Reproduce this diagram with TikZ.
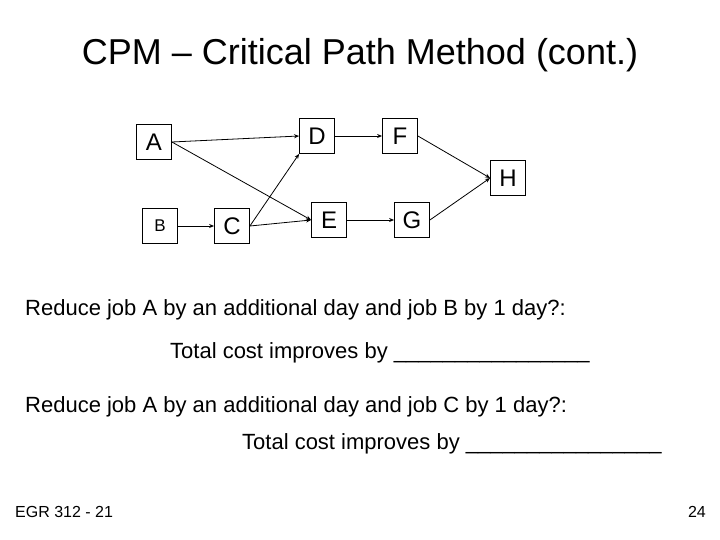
\documentclass[tikz,border=0pt]{standalone}
\usepackage{fontspec}
\setmainfont{Liberation Sans}
\usetikzlibrary{arrows.meta}
\begin{document}
\begin{tikzpicture}[x=1pt,y=-1pt,
  box/.style={draw,thick,minimum width=35pt,minimum height=35pt,inner sep=0pt,font=\fontsize{24}{26}\selectfont},
  arr/.style={thick,-{Stealth[length=5pt,width=4pt]}},
  txt/.style={anchor=west,inner sep=0pt,font=\fontsize{22}{26}\selectfont}]
\useasboundingbox[fill=white] (0,0) rectangle (720,540);
\node[font=\fontsize{36}{40}\selectfont] (title) at (360,55) {CPM – Critical Path Method (cont.)};
\node[box] (A) at (154,142) {A};
\node[box] (D) at (317,136) {D};
\node[box] (F) at (400,136) {F};
\node[box] (H) at (508,178) {H};
\node[box,font=\fontsize{17}{19}\selectfont] (B) at (160,226) {B};
\node[box] (C) at (232,226) {C};
\node[box] (E) at (329,220) {E};
\node[box] (G) at (412,220) {G};
\draw[arr] (A.east) -- (D.west);
\draw[arr] (A.east) -- (E.west);
\draw[arr] (B.east) -- (C.west);
\draw[arr] (C.east) -- (E.west);
\draw[arr] (C.east) -- (D.south west);
\draw[arr] (D.east) -- (F.west);
\draw[arr] (E.east) -- (G.west);
\draw[arr] (F.east) -- (H.west);
\draw[arr] (G.east) -- (H.west);
\node[txt] (t1) at (25,310) {Reduce job A by an additional day and job B by 1 day?:};
\node[txt] (t2) at (170,353) {Total cost improves by \_\_\_\_\_\_\_\_\_\_\_\_\_\_\_\_};
\node[txt] (t3) at (25,407) {Reduce job A by an additional day and job C by 1 day?:};
\node[txt] (t4) at (242,444) {Total cost improves by \_\_\_\_\_\_\_\_\_\_\_\_\_\_\_\_};
\node[anchor=west,inner sep=0pt,font=\fontsize{16}{18}\selectfont] (f1) at (15,512) {EGR 312 - 21};
\node[anchor=east,inner sep=0pt,font=\fontsize{16}{18}\selectfont] (f2) at (706,512) {24};
\end{tikzpicture}
\end{document}
